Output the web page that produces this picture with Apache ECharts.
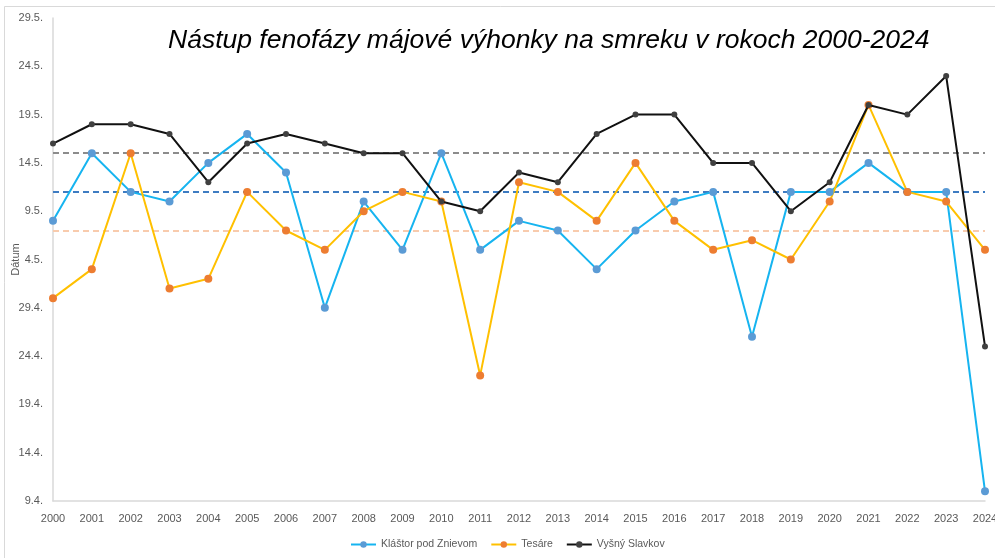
<!DOCTYPE html>
<html>
<head>
<meta charset="utf-8">
<title>Nástup fenofázy májové výhonky</title>
<script src="https://cdn.jsdelivr.net/npm/echarts@6/dist/echarts.min.js"></script>
<style>
  html, body { margin: 0; padding: 0; background: #fff; }
  #chart { width: 995px; height: 558px; }
</style>
</head>
<body>
<div id="chart"></div>
<script>
// Years of observation
const years = ['2000','2001','2002','2003','2004','2005','2006','2007','2008','2009','2010','2011','2012',
  '2013','2014','2015','2016','2017','2018','2019','2020','2021','2022','2023','2024'];

// Onset dates (day.month.) of the May-shoot phenophase per station
const klastor = ['8.5.','15.5.','11.5.','10.5.','14.5.','17.5.','13.5.','29.4.','10.5.','5.5.','15.5.','5.5.','8.5.',
  '7.5.','3.5.','7.5.','10.5.','11.5.','26.4.','11.5.','11.5.','14.5.','11.5.','11.5.','10.4.'];
const tesare = ['30.4.','3.5.','15.5.','1.5.','2.5.','11.5.','7.5.','5.5.','9.5.','11.5.','10.5.','22.4.','12.5.',
  '11.5.','8.5.','14.5.','8.5.','5.5.','6.5.','4.5.','10.5.','20.5.','11.5.','10.5.','5.5.'];
const slavkov = ['16.5.','18.5.','18.5.','17.5.','12.5.','16.5.','17.5.','16.5.','15.5.','15.5.','10.5.','9.5.','13.5.',
  '12.5.','17.5.','19.5.','19.5.','14.5.','14.5.','9.5.','12.5.','20.5.','19.5.','23.5.','25.4.'];

// Long-term reference dates (Kláštor, Tesáre, Vyšný Slavkov)
const referenceDates = ['11.5.', '7.5.', '15.5.'];

const seriesNames = ['Kláštor pod Znievom', 'Tesáre', 'Vyšný Slavkov'];

// Value axis counts days from 9 April; ticks every 5 days
const BASE = Date.UTC(2001, 3, 9);
const DAY = 86400000;
function toOffset(s) {
  const p = s.split('.');
  return Math.round((Date.UTC(2001, +p[1] - 1, +p[0]) - BASE) / DAY);
}
function toLabel(v) {
  const d = new Date(BASE + v * DAY);
  return d.getUTCDate() + '.' + (d.getUTCMonth() + 1) + '.';
}

const lineColors = ['#16B4F0', '#FFC000', '#111111'];
const markerColors = ['#5B9BD5', '#ED7D31', '#404040'];
const refColors = ['#3E7CC2', '#F8CBAD', '#8C8C8C'];
const sizes = [8, 8, 6];
const dataSets = [klastor, tesare, slavkov];

const chart = echarts.init(document.getElementById('chart'));

const series = dataSets.map((arr, i) => ({
  name: seriesNames[i],
  type: 'line',
  data: arr.map(toOffset),
  symbol: 'circle',
  symbolSize: sizes[i],
  z: 3 + (i === 2 ? 1 : 0),
  lineStyle: { color: lineColors[i], width: 2 },
  itemStyle: { color: markerColors[i] },
  markLine: {
    silent: true,
    symbol: 'none',
    label: { show: false },
    lineStyle: { color: refColors[i], type: [6, 4], width: 2 },
    data: [{ yAxis: toOffset(referenceDates[i]) }],
    z: 1
  }
}));

chart.setOption({
  animation: false,
  backgroundColor: '#ffffff',
  graphic: [{
    type: 'rect',
    shape: { x: 4.5, y: 6.5, width: 1000, height: 600 },
    style: { fill: 'none', stroke: '#d9d9d9', lineWidth: 1 },
    silent: true
  }],
  title: {
    text: 'Nástup fenofázy májové výhonky na smreku v rokoch 2000-2024',
    left: 163,
    top: 22,
    textStyle: {
      fontFamily: 'Liberation Sans',
      fontStyle: 'italic',
      fontWeight: 'normal',
      fontSize: 26.5,
      color: '#000000'
    }
  },
  legend: {
    bottom: 3,
    left: 345,
    itemWidth: 25,
    itemHeight: 8,
    itemGap: 13,
    textStyle: { fontFamily: 'Liberation Sans', fontSize: 10.5, color: '#595959' },
    data: seriesNames
  },
  grid: { left: 53, right: 10, top: 18, bottom: 57, containLabel: false, outerBoundsMode: 'none' },
  xAxis: {
    type: 'category',
    data: years,
    boundaryGap: false,
    axisLine: { lineStyle: { color: '#d9d9d9', width: 1.5 } },
    axisTick: { show: false },
    axisLabel: { fontFamily: 'Liberation Sans', fontSize: 11, color: '#595959', margin: 12, interval: 0 }
  },
  yAxis: {
    type: 'value',
    min: 0,
    max: 50,
    interval: 5,
    name: 'Dátum',
    nameLocation: 'middle',
    nameGap: 32,
    nameMoveOverlap: false,
    nameTextStyle: { fontFamily: 'Liberation Sans', fontSize: 11, color: '#595959' },
    axisLine: { show: true, lineStyle: { color: '#d9d9d9', width: 1.5 } },
    axisTick: { show: false },
    splitLine: { show: false },
    axisLabel: { fontFamily: 'Liberation Sans', fontSize: 11, color: '#595959', margin: 10, formatter: toLabel }
  },
  series: series
});
</script>
</body>
</html>
